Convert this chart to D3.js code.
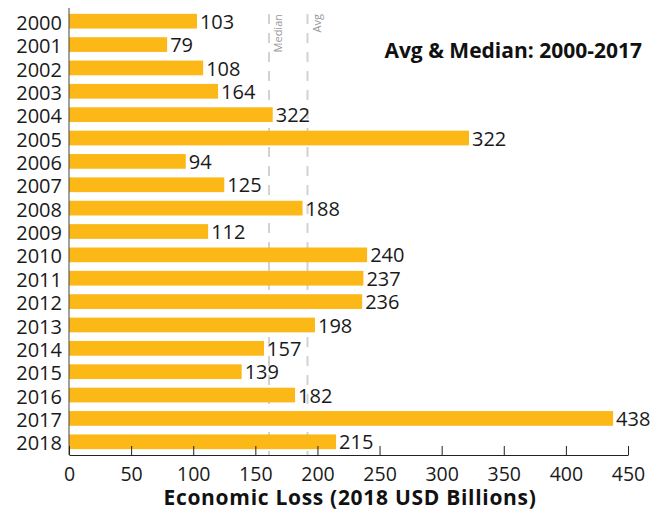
<!DOCTYPE html>
<html>
<head>
<meta charset="utf-8">
<script src="https://cdn.jsdelivr.net/npm/d3@7"></script>
<style>
  html, body { margin: 0; padding: 0; background: #fff; }
  svg { display: block; font-family: "Open Sans", sans-serif; }
</style>
</head>
<body>
<svg id="chart" width="659" height="512"></svg>
<script>
const years = ["2000","2001","2002","2003","2004","2005","2006","2007","2008","2009","2010","2011","2012","2013","2014","2015","2016","2017","2018"];
const barValues = [103,79,108,120,164,322,94,125,188,112,240,237,236,198,157,139,182,438,215];
const valueLabels = ["103","79","108","164","322","322","94","125","188","112","240","237","236","198","157","139","182","438","215"];
const refNames = ["Median","Avg"];
const refValues = [161, 192];
const xTicks = [0,50,100,150,200,250,300,350,400,450];
const titleText = "Avg & Median: 2000-2017";
const xTitle = "Economic Loss (2018 USD Billions)";

const svg = d3.select("#chart");
const x = d3.scaleLinear().domain([0, 450]).range([69, 628]);
const y = d3.scaleBand().domain(years).range([8, 455]).paddingInner(0.37).paddingOuter(0.25);
const barColor = "#FBB817";

// reference lines (behind bars)
const refs = svg.append("g");
refs.selectAll("line").data(refValues).join("line")
  .attr("x1", d => x(d)).attr("x2", d => x(d))
  .attr("y1", 14).attr("y2", 455)
  .attr("stroke", "#d2d2d2").attr("stroke-width", 2)
  .attr("stroke-dasharray", "10,9");
refs.selectAll("text").data(refValues).join("text")
  .attr("transform", (d) => `translate(${x(d) + 13},14) rotate(-90)`)
  .attr("text-anchor", "end")
  .attr("font-size", 11)
  .attr("fill", "#9a9a9a")
  .text((d, i) => refNames[i]);

// bars
svg.append("g").selectAll("rect").data(years).join("rect")
  .attr("x", x(0))
  .attr("y", d => y(d))
  .attr("width", (d, i) => x(barValues[i]) - x(0))
  .attr("height", y.bandwidth())
  .attr("fill", barColor);

// value labels
svg.append("g").selectAll("text").data(years).join("text")
  .attr("x", (d, i) => x(barValues[i]) + 3)
  .attr("y", d => y(d) + y.bandwidth() / 2)
  .attr("dy", "0.38em")
  .attr("font-size", 20)
  .attr("fill", "#1a1a1a")
  .text((d, i) => valueLabels[i]);

// y axis
const yAxis = svg.append("g").attr("transform", `translate(${x(0)},0)`)
  .call(d3.axisLeft(y).tickSize(0).tickPadding(7));
yAxis.select(".domain").attr("stroke", "#444").attr("d", `M0,8V455`);
yAxis.selectAll("text").attr("font-size", 20).attr("font-family", "Open Sans, sans-serif")
  .attr("fill", "#1a1a1a").attr("dy", "0.43em");

// x axis
const xAxis = svg.append("g").attr("transform", "translate(0,455)")
  .call(d3.axisBottom(x).tickValues(xTicks).tickSizeInner(-9).tickSizeOuter(0).tickPadding(12).tickFormat(d3.format("d")));
xAxis.select(".domain").attr("stroke", "#222");
xAxis.selectAll(".tick line").attr("stroke", "#222");
xAxis.selectAll("text").attr("font-size", 19.5).attr("font-family", "Open Sans, sans-serif").attr("fill", "#1a1a1a");

// titles
svg.append("text")
  .attr("x", 642).attr("y", 58)
  .attr("text-anchor", "end")
  .attr("font-size", 21).attr("font-weight", "bold").attr("fill", "#111")
  .text(titleText);

svg.append("text")
  .attr("x", 350).attr("y", 505)
  .attr("text-anchor", "middle")
  .attr("font-size", 21).attr("font-weight", "bold").attr("fill", "#111")
  .attr("letter-spacing", 0.7)
  .text(xTitle);
</script>
</body>
</html>
